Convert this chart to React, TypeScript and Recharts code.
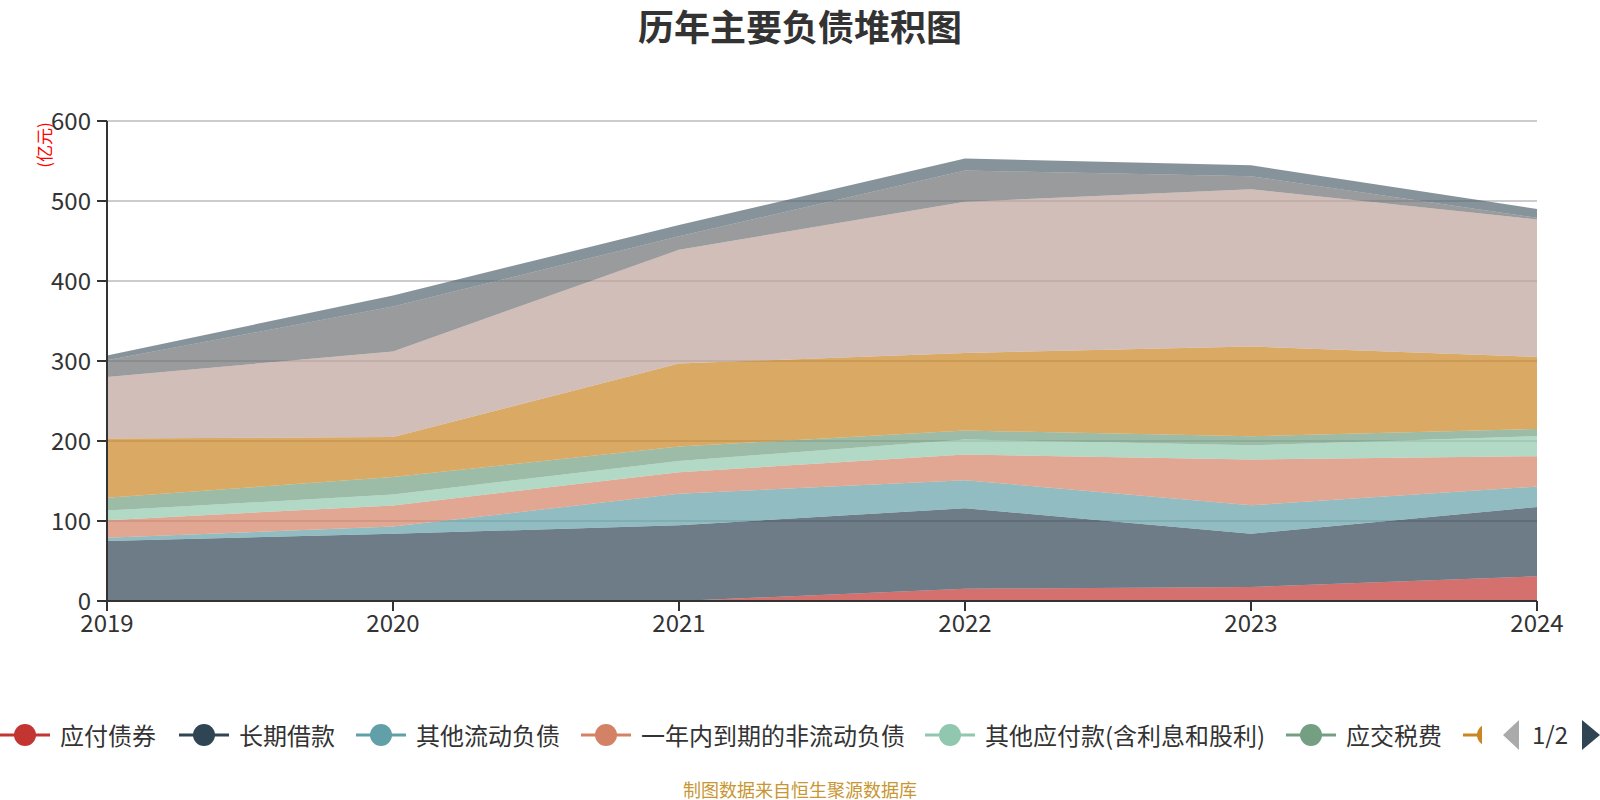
import React from 'react'
import { Area, AreaChart, CartesianGrid, XAxis, YAxis } from 'recharts'

// 年份
const YEARS = ['2019', '2020', '2021', '2022', '2023', '2024']

// 各项负债（亿元），自下而上堆叠
const YING_FU_ZHAI_QUAN = [0, 0, 0, 15.4, 17.5, 30.8]
const CHANG_QI_JIE_KUAN = [75, 84, 94.6, 100.6, 66.5, 86.7]
const QI_TA_LIU_DONG = [4, 9, 39.4, 35, 35.6, 25.5]
const YI_NIAN_NEI_DAO_QI = [22, 26.5, 27, 32, 57.4, 38]
const QI_TA_YING_FU = [12, 13.5, 14, 19, 17.6, 25]
const YING_JIAO_SHUI_FEI = [16, 22, 18, 11, 11.4, 9]
const HE_TONG_FU_ZHAI = [74, 50, 104, 97, 112, 90]
const YING_FU_ZHANG_KUAN = [77, 107, 142, 189, 196.6, 172]
const YING_FU_PIAO_JU = [21, 56, 17, 39, 16.4, 2]
const DUAN_QI_JIE_KUAN = [6, 14, 14, 15, 13.6, 11]

const Y_TICKS = [0, 100, 200, 300, 400, 500, 600]

type Serie = { key: string; name: string; color: string; values: number[] }

const SERIES: Serie[] = [
  { key: 's1', name: '应付债券', color: '#c23531', values: YING_FU_ZHAI_QUAN },
  { key: 's2', name: '长期借款', color: '#2f4554', values: CHANG_QI_JIE_KUAN },
  { key: 's3', name: '其他流动负债', color: '#61a0a8', values: QI_TA_LIU_DONG },
  { key: 's4', name: '一年内到期的非流动负债', color: '#d48265', values: YI_NIAN_NEI_DAO_QI },
  { key: 's5', name: '其他应付款(含利息和股利)', color: '#91c7ae', values: QI_TA_YING_FU },
  { key: 's6', name: '应交税费', color: '#749f83', values: YING_JIAO_SHUI_FEI },
  { key: 's7', name: '合同负债', color: '#ca8622', values: HE_TONG_FU_ZHAI },
  { key: 's8', name: '应付账款', color: '#bda29a', values: YING_FU_ZHANG_KUAN },
  { key: 's9', name: '应付票据', color: '#6e7074', values: YING_FU_PIAO_JU },
  { key: 's10', name: '短期借款', color: '#546570', values: DUAN_QI_JIE_KUAN },
]

// 图例第一页每项的左边位置（像素）；第 7 项只露出图标的一部分
const LEGEND_LEFT = [0, 179, 356, 581, 925, 1286, 1463]

const FONT = '"Noto Sans CJK SC", "Noto Sans", sans-serif'

const data = YEARS.map((year, i) => {
  const row: Record<string, string | number> = { year }
  for (const s of SERIES) row[s.key] = s.values[i]
  return row
})

function UnitLabel(props: { viewBox?: { x: number; y: number } }) {
  const vb = props.viewBox ?? { x: 0, y: 0 }
  const x = vb.x + 24
  const y = vb.y + 24
  return (
    <text
      x={x}
      y={y}
      transform={`rotate(-90 ${x} ${y})`}
      textAnchor="middle"
      fill="#ff0000"
      fontSize={17}
      fontFamily={FONT}
    >
      (亿元)
    </text>
  )
}

function LegendIcon({ color }: { color: string }) {
  return (
    <svg width={50} height={28} style={{ display: 'block', flex: 'none' }}>
      <line x1={0} y1={14} x2={50} y2={14} stroke={color} strokeWidth={3} />
      <circle cx={25} cy={14} r={11} fill={color} />
    </svg>
  )
}

function LegendPage() {
  const last = LEGEND_LEFT.length - 1
  return (
    <div style={{ position: 'absolute', left: 0, top: 715, width: 1600, height: 40 }}>
      <div style={{ position: 'absolute', left: 0, top: 0, width: 1482, height: 40, overflow: 'hidden' }}>
        {SERIES.slice(0, LEGEND_LEFT.length).map((s, i) => (
          <div
            key={s.key}
            style={{
              position: 'absolute',
              left: LEGEND_LEFT[i],
              top: 0,
              height: 40,
              display: 'flex',
              alignItems: 'center',
              whiteSpace: 'nowrap',
            }}
          >
            <LegendIcon color={s.color} />
            {i < last && (
              <span style={{ marginLeft: 10, fontSize: 24, lineHeight: '32px', color: '#333', fontFamily: FONT }}>
                {s.name}
              </span>
            )}
          </div>
        ))}
      </div>
      <svg width={100} height={40} style={{ position: 'absolute', left: 1500, top: 0 }}>
        <polygon points="19,5 19,35 3,20" fill="#aaaaaa" />
        <text x={50} y={29} textAnchor="middle" fontSize={24} fill="#333" fontFamily={FONT}>
          1/2
        </text>
        <polygon points="82,5 82,35 100,20" fill="#2f4554" />
      </svg>
    </div>
  )
}

export default function App() {
  return (
    <div style={{ position: 'absolute', left: 0, top: 0, width: 1600, height: 800, background: '#fff', fontFamily: FONT }}>
      <div
        style={{
          position: 'absolute',
          left: 0,
          top: 7,
          width: 1600,
          textAlign: 'center',
          fontSize: 36,
          lineHeight: '36px',
          fontWeight: 'bold',
          color: '#333',
        }}
      >
        历年主要负债堆积图
      </div>
      <AreaChart
        width={1600}
        height={800}
        data={data}
        margin={{ top: 121, right: 63, bottom: 159, left: 27 }}
      >
        <CartesianGrid horizontal vertical={false} stroke="#cccccc" strokeWidth={2} />
        <XAxis
          dataKey="year"
          height={40}
          interval={0}
          stroke="#333"
          strokeWidth={2}
          tickSize={10}
          tickMargin={4}
          tick={{ fontSize: 24, fill: '#333', fontFamily: FONT }}
        />
        <YAxis
          width={80}
          domain={[0, 600]}
          ticks={Y_TICKS}
          interval={0}
          stroke="#333"
          strokeWidth={2}
          tickSize={10}
          tickMargin={6}
          tick={{ fontSize: 24, fill: '#333', fontFamily: FONT }}
          label={<UnitLabel />}
        />
        {SERIES.map((s) => (
          <Area
            key={s.key}
            type="linear"
            dataKey={s.key}
            name={s.name}
            stackId="total"
            stroke="none"
            fill={s.color}
            fillOpacity={0.7}
            dot={false}
            activeDot={false}
            isAnimationActive={false}
          />
        ))}
      </AreaChart>
      <LegendPage />
      <div
        style={{
          position: 'absolute',
          left: 0,
          top: 780,
          width: 1600,
          textAlign: 'center',
          fontSize: 18,
          lineHeight: '18px',
          color: '#c89632',
        }}
      >
        制图数据来自恒生聚源数据库
      </div>
    </div>
  )
}
